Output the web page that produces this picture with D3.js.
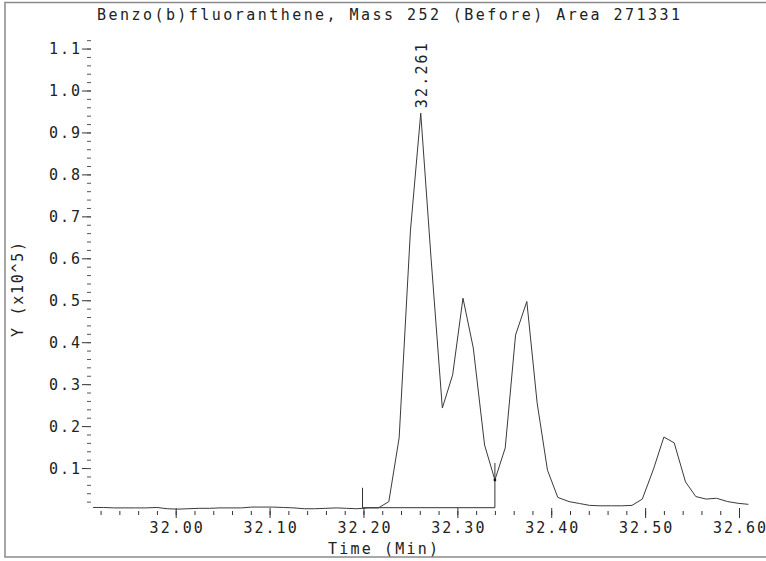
<!DOCTYPE html>
<html>
<head>
<meta charset="utf-8">
<script src="https://cdn.jsdelivr.net/npm/d3@7"></script>
<style>
  html, body { margin: 0; padding: 0; background: #fff; }
  svg { display: block; }
  text { font-family: "DejaVu Sans Mono", "Liberation Mono", monospace; fill: #222; }
</style>
</head>
<body>
<svg id="chart" width="766" height="561"></svg>
<script>
// ---- data ----
const times = [
  31.912, 31.923, 31.934, 31.946, 31.957, 31.968, 31.980, 31.991, 32.002, 32.013,
  32.025, 32.036, 32.047, 32.058, 32.070, 32.081, 32.092, 32.103, 32.115, 32.126,
  32.137, 32.148, 32.160, 32.171, 32.182, 32.193, 32.205, 32.216, 32.227, 32.238,
  32.250, 32.261, 32.272, 32.284, 32.295, 32.306, 32.317, 32.329, 32.340, 32.351,
  32.362, 32.374, 32.385, 32.396, 32.407, 32.419, 32.430, 32.441, 32.452, 32.464,
  32.475, 32.486, 32.497, 32.509, 32.520, 32.531, 32.543, 32.554, 32.565, 32.576,
  32.588, 32.599, 32.610
];
const intensity = [
  0.006, 0.006, 0.005, 0.005, 0.005, 0.005, 0.006, 0.003, 0.002, 0.003,
  0.004, 0.004, 0.005, 0.005, 0.005, 0.007, 0.007, 0.007, 0.006, 0.005,
  0.003, 0.003, 0.004, 0.005, 0.004, 0.003, 0.005, 0.005, 0.020, 0.172,
  0.665, 0.946, 0.600, 0.243, 0.322, 0.505, 0.386, 0.155, 0.0715, 0.148,
  0.417, 0.497, 0.255, 0.095, 0.030, 0.020, 0.0155, 0.011, 0.010, 0.010,
  0.010, 0.011, 0.026, 0.098, 0.174, 0.160, 0.067, 0.032, 0.026, 0.028,
  0.020, 0.016, 0.0135
];
const title = "Benzo(b)fluoranthene, Mass 252 (Before) Area 271331";
const xLabel = "Time (Min)";
const yLabel = "Y (x10^5)";
const xTickValues = [32.0, 32.1, 32.2, 32.3, 32.4, 32.5, 32.6];
const xTickLabels = ["32.00", "32.10", "32.20", "32.30", "32.40", "32.50", "32.60"];
const yTickValues = [0.1, 0.2, 0.3, 0.4, 0.5, 0.6, 0.7, 0.8, 0.9, 1.0, 1.1];
const yTickLabels = ["0.1", "0.2", "0.3", "0.4", "0.5", "0.6", "0.7", "0.8", "0.9", "1.0", "1.1"];
const peakTimes = [32.261];
const peakValues = [0.946];
const peakLabels = ["32.261"];
const markerTimes = [32.199, 32.340];
const markerTops = [0.053, 0.112];
const baselineValue = 0.0055;

// ---- layout ----
const svg = d3.select("#chart");
const x = d3.scaleLinear().domain([32.0, 32.6]).range([175.7, 739]);
const y = d3.scaleLinear().domain([0, 1.1]).range([510, 48.55]);

// frame
svg.append("rect")
  .attr("x", 5).attr("y", 2.5).attr("width", 770).attr("height", 554.5)
  .attr("fill", "none").attr("stroke", "#8a8a8a").attr("stroke-width", 1.5);

// title
svg.append("text")
  .attr("x", 97).attr("y", 20)
  .attr("font-size", 15)
  .attr("textLength", 583).attr("lengthAdjust", "spacing")
  .text(title);

// x axis: major
const xMinor = d3.range(31.92, 32.605, 0.02).map(v => +v.toFixed(2));
const xAxisMajor = d3.axisBottom(x)
  .tickValues(xTickValues)
  .tickSize(10)
  .tickPadding(3)
  .tickFormat((d, i) => xTickLabels[i]);
const gx = svg.append("g").attr("transform", "translate(0,508)").call(xAxisMajor);
gx.select(".domain").remove();
gx.selectAll(".tick line").attr("stroke", "#333");
gx.selectAll(".tick text")
  .attr("font-size", 15).attr("fill", "#222")
  .attr("font-family", "DejaVu Sans Mono")
  .attr("letter-spacing", 2)
  .attr("dx", 1)
  .attr("y", 14).attr("dy", "0.71em");

const xAxisMinor = d3.axisBottom(x).tickValues(xMinor).tickSize(4).tickFormat("");
const gxm = svg.append("g").attr("transform", "translate(0,511)").call(xAxisMinor);
gxm.select(".domain").remove();
gxm.selectAll(".tick line").attr("stroke", "#333");

// y axis
const yMinor = d3.range(0.02, 1.125, 0.02).map(v => +v.toFixed(2));
const yAxisMajor = d3.axisLeft(y)
  .tickValues(yTickValues)
  .tickSize(9)
  .tickPadding(2)
  .tickFormat((d, i) => yTickLabels[i]);
const gy = svg.append("g").attr("transform", "translate(91,0)").call(yAxisMajor);
gy.select(".domain").remove();
gy.selectAll(".tick line").attr("stroke", "#333");
gy.selectAll(".tick text")
  .attr("font-size", 15).attr("fill", "#222")
  .attr("font-family", "DejaVu Sans Mono")
  .attr("letter-spacing", 2)
  .attr("dx", 2)
  .attr("dy", "0.36em");

const yAxisMinor = d3.axisLeft(y).tickValues(yMinor).tickSize(4).tickFormat("");
const gym = svg.append("g").attr("transform", "translate(91,0)").call(yAxisMinor);
gym.select(".domain").remove();
gym.selectAll(".tick line").attr("stroke", "#555");

// axis titles
svg.append("text")
  .attr("x", 328).attr("y", 554)
  .attr("font-size", 15)
  .attr("textLength", 110).attr("lengthAdjust", "spacing")
  .text(xLabel);

svg.append("text")
  .attr("transform", "translate(23,337) rotate(-90)")
  .attr("font-size", 15)
  .attr("textLength", 95).attr("lengthAdjust", "spacing")
  .text(yLabel);

// integration baseline and markers
svg.append("line")
  .attr("x1", x(markerTimes[0])).attr("x2", x(markerTimes[1]))
  .attr("y1", y(baselineValue)).attr("y2", y(baselineValue))
  .attr("stroke", "#333").attr("stroke-width", 1);

svg.selectAll("line.marker")
  .data(markerTimes)
  .enter().append("line")
  .attr("class", "marker")
  .attr("x1", d => x(d)).attr("x2", d => x(d))
  .attr("y1", y(baselineValue))
  .attr("y2", (d, i) => y(markerTops[i]))
  .attr("stroke", "#333").attr("stroke-width", 1);

// chromatogram trace
const pts = times.map((t, i) => [t, intensity[i]]);
svg.append("path")
  .datum(pts)
  .attr("fill", "none")
  .attr("stroke", "#3a3a3a")
  .attr("stroke-width", 1)
  .attr("d", d3.line().x(d => x(d[0])).y(d => y(d[1])));

// valley dot at second marker
svg.append("circle")
  .attr("cx", x(markerTimes[1]))
  .attr("cy", y(intensity[times.indexOf(markerTimes[1])]))
  .attr("r", 1.4).attr("fill", "#111");

// peak label
peakTimes.forEach((t, i) => {
  svg.append("text")
    .attr("transform", `translate(${x(t) + 6.5},${y(peakValues[i]) - 5}) rotate(-90)`)
    .attr("font-size", 15)
    .attr("textLength", 65).attr("lengthAdjust", "spacing")
    .text(peakLabels[i]);
});
</script>
</body>
</html>
